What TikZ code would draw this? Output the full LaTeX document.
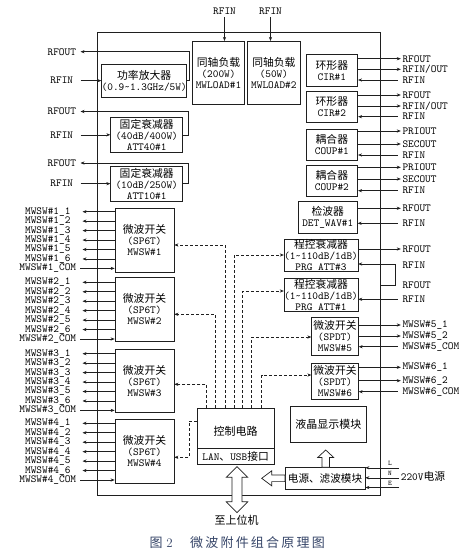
\documentclass[tikz,border=0pt]{standalone}
\usepackage{fontspec}
\newfontfamily\cjk{Noto Sans CJK SC}
\usetikzlibrary{arrows.meta}
\newcommand\zh[1]{{\cjk #1}}
\newcommand\lt{\ttfamily\addfontfeature{FakeBold=0.5}}
\definecolor{lc}{gray}{0.12}
\definecolor{capc}{RGB}{55,70,105}
\begin{document}
\begin{tikzpicture}[x=1pt,y=-1pt,
  every node/.style={font=\fontsize{10.8}{11}\selectfont\lt, text=black},
  box/.style={draw=lc, line width=0.7pt, align=center, inner sep=0pt},
  lab/.style={inner sep=0pt},
  llab/.style={inner sep=0pt, anchor=east, text width=69pt, align=center},
  rlab/.style={inner xsep=1.5pt, inner ysep=0pt, anchor=west},
  arr/.style={draw=lc, line width=0.6pt, -{Stealth[length=4pt,width=3.2pt]}},
  dsh/.style={draw=lc, line width=0.6pt, dash pattern=on 3pt off 2pt, -{Stealth[length=4pt,width=3.2pt]}},
  hol/.style={draw=lc, line width=0.7pt, fill=white, line join=miter}]
\fill[white] (0,0) rectangle (466,558);
\useasboundingbox (0,0) rectangle (466,558);

% main frame
\node[draw=lc, line width=0.8pt, minimum width=282.3pt, minimum height=463.7pt, inner sep=0pt] (main) at (238.85,263.85) {};

% top loads
\node[box, minimum width=51.6pt, minimum height=62.7pt] (load1) at (218.5,72.65) {\zh{同轴负载}\\(200W)\\MWLOAD\#1};
\node[box, minimum width=52.3pt, minimum height=62.7pt] (load2) at (273.85,72.65) {\zh{同轴负载}\\(50W)\\MWLOAD\#2};
\node[lab] (tin1) at (224.5,11.7) {RFIN};
\node[lab] (tin2) at (270.5,11.7) {RFIN};
\draw[arr, shorten <=2pt] (tin1.south) -- (tin1.south |- load1.north);
\draw[arr, shorten <=2pt] (tin2.south) -- (tin2.south |- load2.north);

% amplifier and fixed attenuators
\node[box, minimum width=85pt, minimum height=32.7pt] (amp) at (144.2,80.65) {\zh{功率放大器}\\(0.9\textasciitilde1.3GHz/5W)};
\node[box, minimum width=72pt, minimum height=35pt] (att40) at (146.7,134.8) {\zh{固定衰减器}\\(40dB/400W)\\ATT40\#1};
\node[box, minimum width=72pt, minimum height=35.3pt] (att10) at (146.7,183.65) {\zh{固定衰减器}\\(10dB/250W)\\ATT10\#1};

\node[llab, text width=37pt] (rfo1) at (80.5,51.7) {RFOUT};
\node[llab, text width=37pt] (rfi1) at (80.5,80.65) {RFIN};
\node[llab, text width=37pt] (rfo2) at (80.5,111.5) {RFOUT};
\node[llab, text width=37pt] (rfi2) at (80.5,134.8) {RFIN};
\node[llab, text width=37pt] (rfo3) at (80.5,163) {RFOUT};
\node[llab, text width=37pt] (rfi3) at (80.5,183.65) {RFIN};
\coordinate (ampL) at (189.3,51.7);
\coordinate (a40L) at (188.7,111.5);
\coordinate (a10L) at (188.7,163);
\draw[arr] (rfi1.east) -- (amp.west);
\draw[arr] (amp.east) -| (ampL) -- (rfo1.east);
\draw[arr] (rfi2.east) -- (att40.west);
\draw[arr] (att40.east) -| (a40L) -- (rfo2.east);
\draw[arr] (rfi3.east) -- (att10.west);
\draw[arr] (att10.east) -| (a10L) -- (rfo3.east);

% SP6T switches
\node[box, minimum width=59pt, minimum height=63.7pt] (sw1) at (144.5,240.15) {\zh{微波开关}\\(SP6T)\\MWSW\#1};
\node[box, minimum width=59pt, minimum height=63.7pt] (sw2) at (144.5,309.15) {\zh{微波开关}\\(SP6T)\\MWSW\#2};
\node[box, minimum width=59pt, minimum height=63.4pt] (sw3) at (144.5,381) {\zh{微波开关}\\(SP6T)\\MWSW\#3};
\node[box, minimum width=59pt, minimum height=64pt] (sw4) at (144.5,451.3) {\zh{微波开关}\\(SP6T)\\MWSW\#4};
\foreach \s/\y in {1/211.7, 2/282.3, 3/353.7, 4/423.3} {
  \foreach \i in {1,...,6} {
    \node[llab] (m\s-\i) at (82.5,{\y+(\i-1)*9.45}) {MWSW\#\s\_\i};
    \draw[arr] (sw\s.west |- m\s-\i) -- (m\s-\i.east);
  }
  \node[llab, text width=64pt] (m\s-c) at (80,{\y+56.7}) {MWSW\#\s\_COM};
  \draw[arr] (m\s-c.east) -- (sw\s.west |- m\s-c);
}

% right column
\node[box, minimum width=51.7pt, minimum height=31.7pt] (cir1) at (331.85,70.15) {\zh{环形器}\\CIR\#1};
\node[box, minimum width=51.7pt, minimum height=31.4pt] (cir2) at (331.85,107) {\zh{环形器}\\CIR\#2};
\node[box, minimum width=51.7pt, minimum height=31.7pt] (coup1) at (331.85,144.85) {\zh{耦合器}\\COUP\#1};
\node[box, minimum width=51.7pt, minimum height=31.7pt] (coup2) at (331.85,180.85) {\zh{耦合器}\\COUP\#2};
\node[box, minimum width=59pt, minimum height=32.3pt] (det) at (327.8,217.15) {\zh{检波器}\\DET\_WAV\#1};
\node[box, minimum width=73.4pt, minimum height=32.7pt] (prg3) at (321,255.35) {\zh{程控衰减器}\\(1\textasciitilde110dB/1dB)\\PRG ATT\#3};
\node[box, minimum width=73.4pt, minimum height=33.4pt] (prg1) at (321,295) {\zh{程控衰减器}\\(1\textasciitilde110dB/1dB)\\PRG ATT\#1};
\node[box, minimum width=46.6pt, minimum height=37.7pt] (sw5) at (335,336.15) {\zh{微波开关}\\(SPDT)\\MWSW\#5};
\node[box, minimum width=46.6pt, minimum height=36.3pt] (sw6) at (335,381.15) {\zh{微波开关}\\(SPDT)\\MWSW\#6};

\foreach \b/\txt/\y/\n in {cir1/RFOUT/58.7/a, cir1/{RFIN/OUT}/69.3/b, cir2/RFOUT/95/a, cir2/{RFIN/OUT}/106/b,
  coup1/PRIOUT/131/a, coup1/SECOUT/144/b, coup2/PRIOUT/167.3/a, coup2/SECOUT/179/b,
  det/RFOUT/208.3/a, prg3/RFOUT/249/a, sw5/MWSW\#5\_1/325/a, sw5/MWSW\#5\_2/336/b,
  sw6/MWSW\#6\_1/367.3/a, sw6/MWSW\#6\_2/380.7/b} {
  \node[rlab] (\b\n) at (400.8,\y) {\txt};
  \draw[arr] (\b.east |- \b\n) -- (\b\n.west);
}
\foreach \b/\txt/\y in {cir1/RFIN/80, cir2/RFIN/116.7, coup1/RFIN/155, coup2/RFIN/190.7,
  det/RFIN/223.3, prg1/RFIN/299.3, sw5/MWSW\#5\_COM/346.7, sw6/MWSW\#6\_COM/391.7} {
  \node[rlab] (\b-i) at (400.8,\y) {\txt};
  \draw[arr, shorten <=3pt] (\b-i.west) -- (\b.east |- \b-i);
}
\node[rlab] (p3i) at (400.8,265.7) {RFIN};
\node[rlab] (p1o) at (400.8,285) {RFOUT};
\coordinate (lpB) at (395.7,285);
\coordinate (lpT) at (395.7,264);
\draw[arr] (main.east |- lpB) -- (lpB) -- (lpT) -- (prg3.east |- lpT);

% control, LCD, power
\node[box, minimum width=76.7pt, minimum height=40pt] (ctrl) at (235.65,428.3) {};
\node[lab] (ctrlT) at (235.65,431.7) {\fontsize{11}{11}\selectfont\zh{控制电路}};
\node[box, minimum width=76.7pt, minimum height=15.7pt] (lan) at (235.65,456.15) {LAN\zh{、}USB\zh{接口}};
\node[box, minimum width=76.7pt, minimum height=36pt] (lcd) at (328.35,424.7) {\fontsize{11}{11}\selectfont\zh{液晶显示模块}};
\node[box, minimum width=80pt, minimum height=22pt] (psu) at (325,478.3) {\fontsize{10.6}{11}\selectfont\zh{电源、滤波模块}};

% dashed control lines
\foreach \x/\b/\y in {206.7/sw3/384.3, 215/sw2/314.3, 225/sw1/245} {
  \coordinate (k) at (\x,\y);
  \draw[dsh] (ctrl.north -| k) -- (k) -- (\b.east |- k);
}
\foreach \x/\b/\y in {234/prg3/255, 242.7/prg1/291, 251.7/sw5/337, 261.7/sw6/375} {
  \coordinate (k) at (\x,\y);
  \draw[dsh] (ctrl.north -| k) -- (k) -- (\b.west |- k);
}
\coordinate (k4a) at (189,421);
\coordinate (k4b) at (189,457.3);
\draw[dsh] (ctrl.west |- k4a) -- (k4a) -- (k4b) -- (sw4.east |- k4b);

% hollow arrows
\draw[hol] (237,466.7) -- (247.8,477.3) -- (242,477.3) -- (242,501.7) -- (247.8,501.7) -- (237,512.7)
  -- (226.2,501.7) -- (232,501.7) -- (232,477.3) -- (226.2,477.3) -- cycle;
\node[lab] (host) at (236.7,520.5) {\fontsize{11}{11}\selectfont\zh{至上位机}};
\draw[hol] (325.7,450) -- (333.7,457.5) -- (329.5,457.5) -- (329.5,467.3) -- (321.9,467.3) -- (321.9,457.5) -- (317.7,457.5) -- cycle;
\draw[hol] (261.7,478.3) -- (271.7,470.8) -- (271.7,475) -- (285,475) -- (285,481.6) -- (271.7,481.6) -- (271.7,485.8) -- cycle;

% mains input
\node[lab, anchor=west] (v220) at (400.7,476.7) {220V\zh{电源}};
\coordinate (pL) at (399,467.8);
\coordinate (pN) at (399,477.8);
\coordinate (pE) at (399,487.5);
\draw[arr] (pL) -- (psu.east |- pL);
\draw[arr] (pN) -- (psu.east |- pN);
\draw[arr] (pE) -- (psu.east |- pE);
\node[lab, font=\fontsize{7}{7}\selectfont\lt] (tL) at (390,463) {L};
\node[lab, font=\fontsize{7}{7}\selectfont\lt] (tN) at (390,473.3) {N};
\node[lab, font=\fontsize{7}{7}\selectfont\lt] (tE) at (390,483.5) {E};

% caption
\node[lab, anchor=west, text=capc, font=\fontsize{13}{13}\selectfont\rmfamily] (cap1) at (149.3,542.7) {\zh{图}\hspace{4pt}2};
\node[lab, anchor=west, text=capc, font=\fontsize{13}{13}\selectfont\rmfamily] (cap2) at (190,542.7) {\zh{微\kern2.2pt 波\kern2.2pt 附\kern2.2pt 件\kern2.2pt 组\kern2.2pt 合\kern2.2pt 原\kern2.2pt 理\kern2.2pt 图}};
\end{tikzpicture}
\end{document}
